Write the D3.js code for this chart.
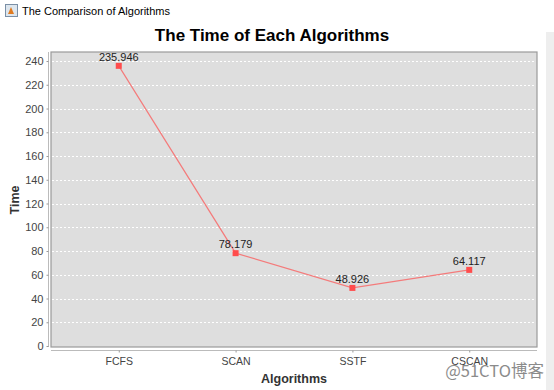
<!DOCTYPE html>
<html><head><meta charset="utf-8">
<script src="https://cdn.jsdelivr.net/npm/d3@7"></script>
<style>body{margin:0;background:#fff;}svg{display:block;}</style>
</head><body>
<svg id="c" width="554" height="390"></svg>
<script>
const categories = ["FCFS","SCAN","SSTF","CSCAN"];
const values = [235.946, 78.179, 48.926, 64.117];
const valueLabels = ["235.946","78.179","48.926","64.117"];
const yTicks = [0,20,40,60,80,100,120,140,160,180,200,220,240];

const svg = d3.select("#c");
const font = "'Liberation Sans', Arial, sans-serif";
// window chrome
svg.append("rect").attr("x",0).attr("y",0).attr("width",554).attr("height",390).attr("fill","#fff");
svg.append("rect").attr("x",546).attr("y",32).attr("width",8).attr("height",358).attr("fill","#eeeeee");
// icon
const ic = svg.append("g").attr("transform","translate(5,4)");
ic.append("rect").attr("x",0.5).attr("y",0.5).attr("width",12).attr("height",12).attr("fill","#dde6ee").attr("stroke","#7a8fa6");
ic.append("path").attr("d","M3,10 L6,3 L9,10 Z").attr("fill","#e07b20");
svg.append("text").attr("x",22).attr("y",15).attr("font-family",font).attr("font-size",11).attr("fill","#000").text("The Comparison of Algorithms");

// title
svg.append("text").attr("x",272).attr("y",41).attr("text-anchor","middle").attr("font-family",font).attr("font-weight","bold").attr("font-size",17).attr("fill","#000").text("The Time of Each Algorithms");

const L=51, R=537, T=52, B=347;
const y = d3.scaleLinear().domain([0,247.6]).range([346,T]);
const x = d3.scalePoint().domain(categories).range([L,R]).padding(0.58);

svg.append("rect").attr("x",L).attr("y",T).attr("width",R-L).attr("height",B-T).attr("fill","#dedede").attr("stroke","#9a9a9a").attr("stroke-width",1.2);

// grid
svg.append("g").selectAll("line").data(yTicks.filter(d=>d>0)).join("line")
  .attr("x1",L+1).attr("x2",R-1).attr("y1",d=>Math.round(y(d))+0.5).attr("y2",d=>Math.round(y(d))+0.5)
  .attr("stroke","#fff").attr("stroke-width",1).attr("stroke-dasharray","2,2");

// y axis
const ya = svg.append("g").attr("transform","translate(48.5,0)").call(d3.axisLeft(y).tickValues(yTicks).tickSize(2).tickPadding(3));
ya.select(".domain").attr("stroke","#bbb").attr("d",`M0,${T}V${B}`);
ya.selectAll(".tick line").attr("stroke","#999");
ya.selectAll("text").attr("font-family",font).attr("font-size",11).attr("fill","#444");

// x axis
const xa = svg.append("g").attr("transform","translate(0,350.5)").call(d3.axisBottom(x).tickSize(2).tickPadding(5));
xa.select(".domain").attr("stroke","#bbb").attr("d",`M${L},0H${R}`);
xa.selectAll(".tick line").attr("stroke","#999");
xa.selectAll("text").attr("font-family",font).attr("font-size",10.5).attr("fill","#444");

// axis labels
svg.append("text").attr("transform","translate(19,200) rotate(-90)").attr("text-anchor","middle").attr("font-family",font).attr("font-weight","bold").attr("font-size",12.5).attr("fill","#333").text("Time");
svg.append("text").attr("x",294).attr("y",383).attr("text-anchor","middle").attr("font-family",font).attr("font-weight","bold").attr("font-size",12.5).attr("fill","#333").text("Algorithms");

// line
const pts = categories.map((c,i)=>[x(c), y(values[i])]);
svg.append("path").attr("d",d3.line()(pts)).attr("fill","none").attr("stroke","#f47b7b").attr("stroke-width",1.2);
svg.append("g").selectAll("rect").data(pts).join("rect")
  .attr("x",d=>d[0]-3).attr("y",d=>d[1]-3).attr("width",6).attr("height",6).attr("fill","#ff4c4c");
svg.append("g").selectAll("text").data(pts).join("text")
  .attr("x",d=>d[0]).attr("y",d=>d[1]-5).attr("text-anchor","middle")
  .attr("font-family",font).attr("font-size",11).attr("fill","#222").text((d,i)=>valueLabels[i]);

// watermark
svg.append("text").attr("x",544).attr("y",377).attr("text-anchor","end").attr("font-family","'Noto Sans CJK SC', sans-serif").attr("font-size",16.5).attr("fill","#777").attr("opacity",0.85).text("@51CTO博客");
</script>
</body></html>
